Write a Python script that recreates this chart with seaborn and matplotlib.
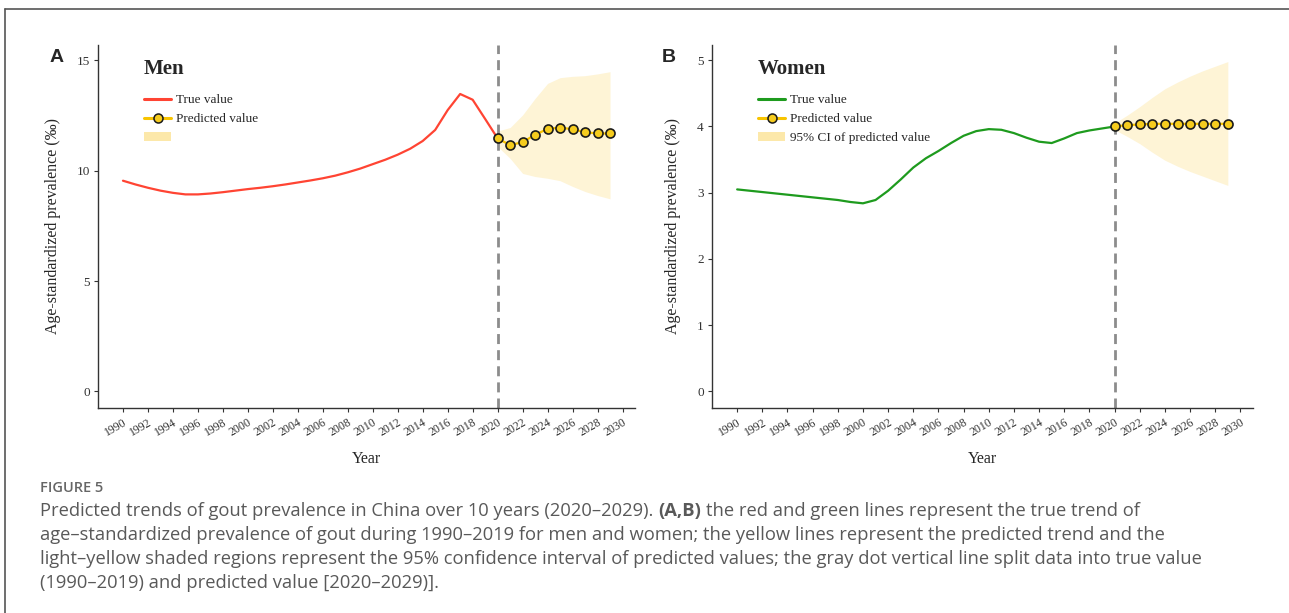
import numpy as np
import pandas as pd
import seaborn as sns
import matplotlib.pyplot as plt
from matplotlib.lines import Line2D
from matplotlib.patches import Patch

# Values (per mille)
years_true = list(range(1990, 2021))
men_true = [9.55, 9.38, 9.23, 9.10, 9.00, 8.93, 8.93, 8.97, 9.03, 9.10,
            9.17, 9.23, 9.30, 9.38, 9.47, 9.56, 9.66, 9.78, 9.93, 10.10,
            10.30, 10.50, 10.73, 11.00, 11.35, 11.85, 12.75, 13.48, 13.22, 12.35,
            11.47]
women_true = [3.05, 3.03, 3.01, 2.99, 2.97, 2.95, 2.93, 2.91, 2.89, 2.86,
              2.84, 2.89, 3.03, 3.20, 3.38, 3.52, 3.63, 3.75, 3.86, 3.93,
              3.96, 3.95, 3.90, 3.83, 3.77, 3.75, 3.82, 3.90, 3.94, 3.97,
              4.00]

years_pred = list(range(2020, 2030))
men_pred = [11.47, 11.16, 11.30, 11.63, 11.90, 11.96, 11.88, 11.75, 11.69, 11.69]
men_lo = [11.10, 10.56, 9.88, 9.74, 9.66, 9.55, 9.29, 9.06, 8.88, 8.73]
men_hi = [11.80, 11.96, 12.53, 13.28, 13.96, 14.22, 14.28, 14.31, 14.39, 14.49]
women_pred = [4.00, 4.02, 4.03, 4.04, 4.04, 4.04, 4.04, 4.04, 4.04, 4.04]
women_lo = [3.95, 3.85, 3.74, 3.61, 3.49, 3.40, 3.32, 3.25, 3.18, 3.11]
women_hi = [4.05, 4.17, 4.30, 4.44, 4.57, 4.67, 4.76, 4.84, 4.91, 4.98]

year_ticks = list(range(1990, 2031, 2))

sns.set_style("ticks")
plt.rcParams["font.family"] = ["Liberation Serif", "DejaVu Serif"]

YELLOW = "#F8C400"
DOT = "#F6CC1E"
CI = "#FEF4D6"
CI_KEY = "#FCE8AA"

W, H = 1289, 613
fig = plt.figure(figsize=(W / 100, H / 100), dpi=100)
axA = fig.add_axes([98 / W, 1 - 408 / H, 537 / W, 363 / H])
axB = fig.add_axes([712 / W, 1 - 408 / H, 541 / W, 363 / H])


def draw_panel(ax, true_vals, pred, lo, hi, color, title, ci_label, ylim, yticks, width_px):
    true_df = pd.DataFrame({"Year": years_true, "value": true_vals})
    pred_df = pd.DataFrame({"Year": years_pred, "value": pred})

    ax.fill_between(years_pred, lo, hi, color=CI, lw=0, zorder=1)
    ax.axvline(2020, color="#8c8c8c", lw=2, linestyle=(0, (3.6, 2.2)), zorder=2)
    sns.lineplot(data=true_df, x="Year", y="value", ax=ax, color=color,
                 linewidth=1.6, zorder=3)
    sns.lineplot(data=pred_df, x="Year", y="value", ax=ax, color=YELLOW,
                 linewidth=1.6, marker="o", markersize=6.5,
                 markerfacecolor=DOT, markeredgecolor="#1a1a1a",
                 markeredgewidth=1.2, zorder=4)

    ax.set_xlim(1988, 2031)
    ax.set_ylim(*ylim)
    ax.set_xticks(year_ticks)
    ax.set_xticklabels([str(y) for y in year_ticks], rotation=30, ha="right",
                       rotation_mode="anchor", fontsize=8.5)
    ax.set_yticks(yticks)
    ax.set_yticklabels([str(t) for t in yticks], fontsize=9.5)
    ax.tick_params(axis="both", direction="out", length=3, width=0.8,
                   color="#333333", labelcolor="#333333", pad=3)
    for side in ["left", "bottom"]:
        ax.spines[side].set_color("#333333")
        ax.spines[side].set_linewidth(1.0)
    sns.despine(ax=ax)

    ax.set_xlabel("Year", fontsize=11.5, labelpad=9)
    ax.set_ylabel("Age-standardized prevalence (‰)", fontsize=11.5,
                  family=["Liberation Serif", "DejaVu Sans"])

    off = 46 / width_px
    ax.text(off, (408 - 69) / 363, title, transform=ax.transAxes,
            fontsize=15, fontweight="bold", va="center", ha="left")

    handles = [
        Line2D([], [], color=color, lw=2.2),
        Line2D([], [], color=YELLOW, lw=2.2, marker="o", markersize=6.5,
               markerfacecolor=DOT, markeredgecolor="#1a1a1a", markeredgewidth=1.1),
        Patch(facecolor=CI_KEY, edgecolor="none"),
    ]
    labels = ["True value", "Predicted value", ci_label]
    ax.legend(handles, labels, loc="upper left",
              bbox_to_anchor=(off, (408 - 94) / 363), frameon=False,
              fontsize=9.5, borderpad=0, borderaxespad=0, handlelength=2.05,
              handletextpad=0.4, labelspacing=0.52)


draw_panel(axA, men_true, men_pred, men_lo, men_hi, "#FF4433", "Men", "",
           (-0.75, 15.7), [0, 5, 10, 15], 537)
draw_panel(axB, women_true, women_pred, women_lo, women_hi, "#1E9B1E", "Women",
           "95% CI of predicted value", (-0.25, 5.23), [0, 1, 2, 3, 4, 5], 541)

axA.yaxis.set_label_coords(-(98 - 61) / 537, 0.5)
axB.yaxis.set_label_coords(-(712 - 681) / 541, 0.5)

# panel letters
fig.text(57 / W, 1 - 57 / H, "A", fontsize=14, fontweight="bold",
         family="Liberation Sans", ha="center", va="center")
fig.text(669 / W, 1 - 57 / H, "B", fontsize=14, fontweight="bold",
         family="Liberation Sans", ha="center", va="center")

# frame around the figure (left and top edges)
fig.add_artist(Line2D([5 / W, 5 / W], [0, 1 - 9 / H], transform=fig.transFigure,
                      color="#555555", lw=1.2))
fig.add_artist(Line2D([5 / W, 1], [1 - 9 / H, 1 - 9 / H], transform=fig.transFigure,
                      color="#555555", lw=1.2))

# caption
cap_kw = dict(family="Open Sans", fontsize=13.2, color="#595959", va="center", ha="left")
fig.text(40 / W, 1 - 488 / H, "FIGURE 5", family="Open Sans", fontsize=10.5,
         fontweight="semibold", color="#666666", va="center", ha="left")

fig.canvas.draw()
renderer = fig.canvas.get_renderer()
y1 = 1 - 511 / H
t1 = fig.text(40 / W, y1, "Predicted trends of gout prevalence in China over 10 years (2020–2029).", **cap_kw)
x_px = t1.get_window_extent(renderer).x1 + 5
t2 = fig.text(x_px / W, y1, "(A,B)", fontweight="bold", **cap_kw)
x_px = t2.get_window_extent(renderer).x1 + 5
fig.text(x_px / W, y1, "the red and green lines represent the true trend of", **cap_kw)

caption_rest = [
    "age–standardized prevalence of gout during 1990–2019 for men and women; the yellow lines represent the predicted trend and the",
    "light–yellow shaded regions represent the 95% confidence interval of predicted values; the gray dot vertical line split data into true value",
    "(1990–2019) and predicted value [2020–2029)].",
]
for i, line in enumerate(caption_rest):
    fig.text(40 / W, 1 - (535 + 24 * i) / H, line, **cap_kw)

fig.savefig("out.png", dpi=100)
plt.close(fig)
